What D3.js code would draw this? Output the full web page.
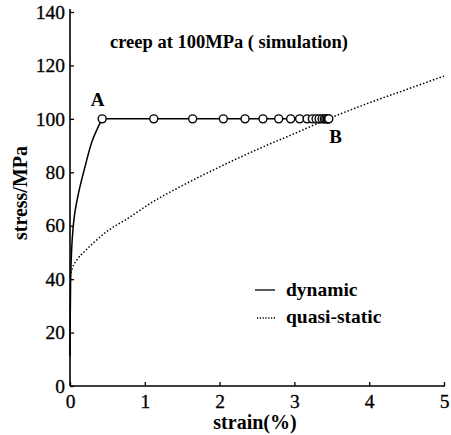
<!DOCTYPE html>
<html><head><meta charset="utf-8">
<script src="https://cdn.jsdelivr.net/npm/d3@7"></script>
<style>body{margin:0;background:#fff}svg{display:block}text{font-family:"Liberation Serif","Times New Roman",serif;fill:#000}</style>
</head><body><svg id="c" width="451" height="435"></svg>
<script>
const xTicks = [0,1,2,3,4,5];
const yTicks = [0,20,40,60,80,100,120,140];
const dynStrain = [0,0.004,0.008,0.015,0.03,0.06,0.12,0.2,0.3,0.43];
const dynStress = [11,28,38,46,55,64,73,82,92,100];
const creepStrain = [0.43,1.12,1.64,2.05,2.34,2.58,2.79,2.95,3.07,3.17,3.24,3.29,3.33,3.37,3.40,3.42,3.44,3.45,3.46];
const creepStress = 100;
const qsStrain = [0,0.03,0.1,0.2,0.31,0.5,0.76,1.11,1.5,2,2.5,3,3.41,4,4.5,5];
const qsStress = [41,44,47.5,50.5,53.5,58,62.5,69,75,82,88.5,94.5,99.5,106,111,116];

const svg = d3.select("#c");
const x = d3.scaleLinear().domain([0,5]).range([70,444]);
const y = d3.scaleLinear().domain([0,140]).range([386,12]);

// axes
const gx = svg.append("g").attr("transform","translate(0,386)")
  .call(d3.axisBottom(x).tickValues(xTicks).tickSize(-4).tickPadding(8).tickFormat(d3.format("d")));
const gy = svg.append("g").attr("transform","translate(70,0)")
  .call(d3.axisLeft(y).tickValues(yTicks).tickSize(-4).tickPadding(5).tickFormat(d3.format("d")));
[gx,gy].forEach(g=>{
  g.select(".domain").attr("stroke","#000").attr("stroke-width",1.6);
  g.selectAll(".tick line").attr("stroke","#000").attr("stroke-width",1.3);
  g.selectAll(".tick text").attr("font-size",19.5).attr("fill","#000")
    .style("font-family","Liberation Serif").attr("stroke","#000").attr("stroke-width",0.3);
});
gy.select(".domain").attr("d","M0,386V9");
gx.select(".domain").attr("d","M70,0H445");

const line = d3.line().x(d=>x(d[0])).y(d=>y(d[1])).curve(d3.curveMonotoneX);
const dynData = dynStrain.map((s,i)=>[s,dynStress[i]]);
svg.append("path")
  .attr("d", d3.line().x(d=>x(d[0])).y(d=>y(d[1])).curve(d3.curveCatmullRom)(dynData))
  .attr("fill","none").attr("stroke","#000").attr("stroke-width",1.5);
const creepData = creepStrain.map(s=>[s,creepStress]);
svg.append("path").attr("d", d3.line().x(d=>x(d[0])).y(d=>y(d[1]))(creepData))
  .attr("fill","none").attr("stroke","#000").attr("stroke-width",1.5);
const qsData = qsStrain.map((s,i)=>[s,qsStress[i]]);
svg.append("path").attr("d", line(qsData))
  .attr("fill","none").attr("stroke","#000").attr("stroke-width",1.5).attr("stroke-dasharray","1.5,2");
svg.selectAll("circle.c").data(creepData).enter().append("circle")
  .attr("cx",d=>x(d[0])).attr("cy",d=>y(d[1])).attr("r",4)
  .attr("fill","#fff").attr("stroke","#000").attr("stroke-width",1.4);

// labels
svg.append("text").attr("x",x(0.37)).attr("y",y(100)-13).attr("text-anchor","middle")
  .attr("font-size",19).attr("font-weight","bold").text("A");
svg.append("text").attr("x",x(3.55)).attr("y",y(100)+24).attr("text-anchor","middle")
  .attr("font-size",19).attr("font-weight","bold").text("B");
svg.append("text").attr("x",229).attr("y",48).attr("text-anchor","middle")
  .attr("font-size",18.5).attr("font-weight","bold").text("creep at 100MPa ( simulation)");
svg.append("text").attr("transform","translate(27,193) rotate(-90)").attr("text-anchor","middle")
  .attr("font-size",20).attr("font-weight","bold").text("stress/MPa");
svg.append("text").attr("x",255).attr("y",429).attr("text-anchor","middle")
  .attr("font-size",20).attr("font-weight","bold").text("strain(%)");

// legend
svg.append("line").attr("x1",255).attr("x2",275).attr("y1",290).attr("y2",290)
  .attr("stroke","#000").attr("stroke-width",1.3);
svg.append("text").attr("x",286).attr("y",296).attr("font-size",19.5).attr("font-weight","bold").text("dynamic");
svg.append("line").attr("x1",257).attr("x2",275).attr("y1",318).attr("y2",318)
  .attr("stroke","#000").attr("stroke-width",1.3).attr("stroke-dasharray","1.2,1.6");
svg.append("text").attr("x",286).attr("y",323).attr("font-size",19.5).attr("font-weight","bold").text("quasi-static");
</script></body></html>
